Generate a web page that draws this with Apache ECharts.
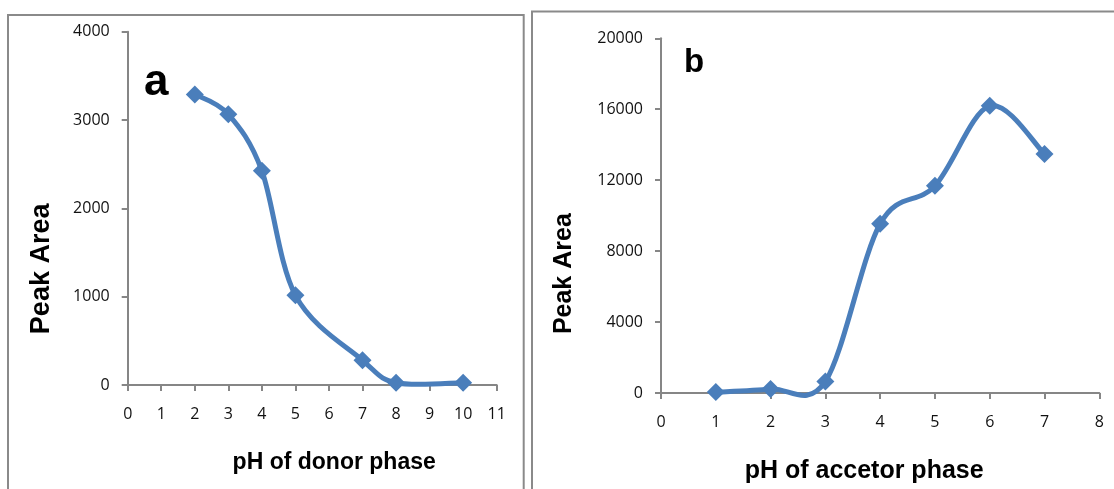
<!DOCTYPE html>
<html>
<head>
<meta charset="utf-8">
<script src="https://cdn.jsdelivr.net/npm/echarts@6/dist/echarts.min.js"></script>
<style>
html,body{margin:0;padding:0;background:#fff;}
#chart{width:1114px;height:489px;}
</style>
</head>
<body>
<div id="chart"></div>
<script>
// Panel a: donor phase pH
const donorPH = [2, 3, 4, 5, 7, 8, 10];
const donorArea = [3290, 3065, 2425, 1015, 280, 25, 25];
// Panel b: acceptor phase pH
const acceptorPH = [1, 2, 3, 4, 5, 6, 7];
const acceptorArea = [50, 225, 650, 9540, 11680, 16190, 13480];

const xTitleA = 'pH of donor phase';
const xTitleB = 'pH of accetor phase';
const yTitle = 'Peak Area';

const pair = (xs, ys) => xs.map((x, i) => [x, ys[i]]);

const AXIS_COLOR = '#868686';
const LINE_COLOR = '#4a7ebb';
const TICK_FONT = '"Open Sans", sans-serif';
const TITLE_FONT = '"Liberation Sans", Arial, sans-serif';

function xAxisCfg(gridIndex, max, name, fontSize, pad) {
  return {
    type: 'value', gridIndex, min: 0, max, interval: 1,
    name, nameLocation: 'middle', nameGap: 66,
    nameTextStyle: { fontFamily: TITLE_FONT, fontWeight: 'bold', fontSize, color: '#000', padding: pad },
    axisLine: { lineStyle: { color: AXIS_COLOR, width: 2 } },
    axisTick: { length: 6, lineStyle: { color: AXIS_COLOR, width: 2 } },
    axisLabel: { margin: 21, fontFamily: TICK_FONT, fontSize: 16, color: '#111', formatter: v => String(v) },
    splitLine: { show: false }
  };
}
function yAxisCfg(gridIndex, max, interval, fontSize, gap, pad) {
  return {
    type: 'value', gridIndex, min: 0, max, interval,
    name: yTitle, nameLocation: 'middle', nameGap: gap,
    nameTextStyle: { fontFamily: TITLE_FONT, fontWeight: 'bold', fontSize, color: '#000', padding: pad },
    axisLine: { show: true, lineStyle: { color: AXIS_COLOR, width: 2 } },
    axisTick: { show: true, length: 6, lineStyle: { color: AXIS_COLOR, width: 2 } },
    axisLabel: { margin: 18, fontFamily: TICK_FONT, fontSize: 16, color: '#111', formatter: v => String(v) },
    splitLine: { show: false }
  };
}

// Excel-style smoothed curve (Catmull-Rom Bezier, tension 1/6) through the data points,
// positioned with the axes' own coordinate conversion (api.coord).
function curveSeries(i, xs, ys) {
  return {
    type: 'custom', xAxisIndex: i, yAxisIndex: i,
    data: pair(xs, ys),
    encode: { x: 0, y: 1 },
    clip: false, silent: true, z: 2,
    renderItem: function (params, api) {
      if (params.dataIndex !== 0) return null;
      const p = xs.map((x, k) => api.coord([x, ys[k]]));
      const n = p.length;
      let d = 'M' + p[0][0] + ' ' + p[0][1];
      for (let k = 0; k < n - 1; k++) {
        const p0 = p[Math.max(k - 1, 0)], p1 = p[k], p2 = p[k + 1], p3 = p[Math.min(k + 2, n - 1)];
        const c1 = [p1[0] + (p2[0] - p0[0]) / 6, p1[1] + (p2[1] - p0[1]) / 6];
        const c2 = [p2[0] - (p3[0] - p1[0]) / 6, p2[1] - (p3[1] - p1[1]) / 6];
        d += ' C' + c1[0] + ' ' + c1[1] + ' ' + c2[0] + ' ' + c2[1] + ' ' + p2[0] + ' ' + p2[1];
      }
      return {
        type: 'path',
        shape: { pathData: d },
        style: { fill: 'none', stroke: LINE_COLOR, lineWidth: 5, lineJoin: 'round', lineCap: 'round' }
      };
    }
  };
}
function markerSeries(i, xs, ys) {
  return {
    type: 'scatter', xAxisIndex: i, yAxisIndex: i,
    data: pair(xs, ys), z: 3,
    symbol: 'diamond', symbolSize: 18,
    itemStyle: { color: LINE_COLOR, opacity: 1 },
    emphasis: { disabled: true }
  };
}

const chart = echarts.init(document.getElementById('chart'), null, { renderer: 'canvas' });
chart.setOption({
  animation: false,
  backgroundColor: '#fff',
  grid: [
    { left: 127.7, top: 31.7, width: 369, height: 353.3 },
    { left: 661, top: 38.3, width: 438.3, height: 355 }
  ],
  xAxis: [
    xAxisCfg(0, 11, xTitleA, 23, [0, 0, 0, 44]),
    xAxisCfg(1, 8, xTitleB, 25, [0, 32, 0, 0])
  ],
  yAxis: [
    yAxisCfg(0, 4000, 1000, 27, 73, [0, 121, 0, 0]),
    yAxisCfg(1, 20000, 4000, 25, 84, [0, 116, 0, 0])
  ],
  series: [
    curveSeries(0, donorPH, donorArea),
    markerSeries(0, donorPH, donorArea),
    curveSeries(1, acceptorPH, acceptorArea),
    markerSeries(1, acceptorPH, acceptorArea)
  ],
  graphic: [
    { type: 'rect', shape: { x: 8, y: 15, width: 515.7, height: 520 }, style: { fill: 'none', stroke: '#8a8a8a', lineWidth: 2 }, z: -1 },
    { type: 'rect', shape: { x: 532, y: 11.5, width: 620, height: 520 }, style: { fill: 'none', stroke: '#8a8a8a', lineWidth: 2 }, z: -1 },
    { type: 'text', left: 144, top: 61, style: { text: 'a', font: 'bold 44px "Liberation Sans", Arial, sans-serif', fill: '#000' } },
    { type: 'text', left: 684, top: 46, style: { text: 'b', font: 'bold 33px "Liberation Sans", Arial, sans-serif', fill: '#000' } }
  ]
});
</script>
</body>
</html>
